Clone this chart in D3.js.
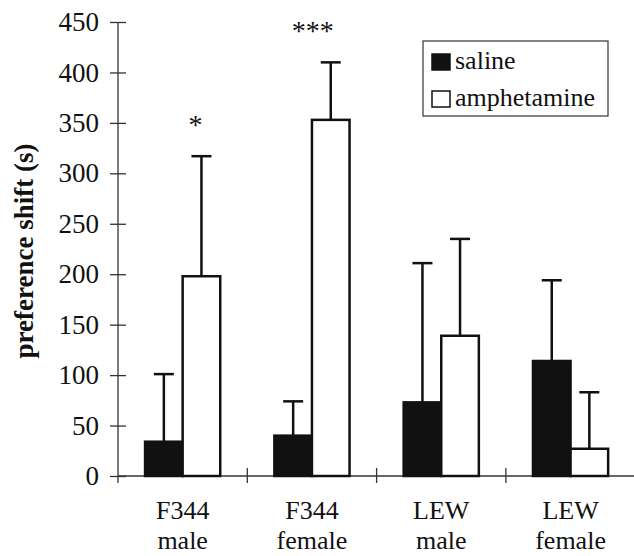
<!DOCTYPE html>
<html>
<head>
<meta charset="utf-8">
<script src="https://cdn.jsdelivr.net/npm/d3@7"></script>
<style>
  body { margin: 0; background: #fff; }
</style>
</head>
<body>
<div id="chart-area"></div>
<script>
// Data
var groups = ["F344 male", "F344 female", "LEW male", "LEW female"];
var treatments = ["saline", "amphetamine"];
var salineMean = [34, 40, 73, 114];
var salineErr = [67, 34, 138, 80];          // error bar length above mean
var amphMean = [198, 353, 139, 27];
var amphErr = [119, 57, 96, 56];
var signif = ["*", "***", "", ""];          // marks above amphetamine bars
var yTicks = [0, 50, 100, 150, 200, 250, 300, 350, 400, 450];

var margin = { left: 118, right: 0, top: 22, bottom: 80 },
    width = 634 - margin.left - margin.right,
    height = 556 - margin.top - margin.bottom;

var serif = "Liberation Serif";

var svg = d3.select("#chart-area").append("svg")
    .attr("width", 634)
    .attr("height", 556)
    .style("font-family", serif);

var g = svg.append("g")
    .attr("transform", "translate(" + margin.left + "," + margin.top + ")");

var ink = "#111";

// Scales
var x_scale = d3.scaleBand().domain(groups).range([0, 4 * 129.3]);
var sub_scale = d3.scaleBand().domain(treatments)
    .range([0, x_scale.bandwidth()])
    .paddingOuter(0.72);
var y_scale = d3.scaleLinear().domain([0, 450]).range([height, 0]);

var data = [];
groups.forEach(function(grp, i) {
    data.push({ group: grp, treat: "saline", mean: salineMean[i], err: salineErr[i], mark: "" });
    data.push({ group: grp, treat: "amphetamine", mean: amphMean[i], err: amphErr[i], mark: signif[i] });
});

// Y axis
var yAxis = g.append("g")
    .attr("class", "y axis")
    .call(d3.axisLeft(y_scale).tickValues(yTicks).tickSize(8).tickPadding(11));
yAxis.attr("font-family", serif).attr("font-size", 27);
yAxis.select(".domain").remove();
yAxis.selectAll(".tick line")
    .attr("x1", -8).attr("x2", 8)
    .attr("stroke", "#333").attr("stroke-width", 1.3);
yAxis.selectAll(".tick text")
    .style("font-size", "27px")
    .style("font-family", serif)
    .attr("fill", ink);
g.append("line")
    .attr("x1", 0).attr("x2", 0)
    .attr("y1", 0).attr("y2", height + 7)
    .attr("stroke", "#333").attr("stroke-width", 1.3);

// X axis
g.append("line")
    .attr("x1", 0).attr("x2", width)
    .attr("y1", height).attr("y2", height)
    .attr("stroke", "#333").attr("stroke-width", 1.3);
g.selectAll(".xtick")
    .data(groups.slice(1))
    .enter().append("line")
    .attr("class", "xtick")
    .attr("x1", function(d) { return x_scale(d); })
    .attr("x2", function(d) { return x_scale(d); })
    .attr("y1", height - 8).attr("y2", height + 7)
    .attr("stroke", "#333").attr("stroke-width", 1.3);

// Category labels, two lines each
var catLabels = g.selectAll(".cat")
    .data(groups)
    .enter().append("text")
    .attr("class", "cat")
    .attr("text-anchor", "middle")
    .style("font-size", "26px")
    .style("font-family", serif)
    .attr("fill", ink)
    .attr("transform", function(d) {
        return "translate(" + (x_scale(d) + x_scale.bandwidth() / 2) + "," + (height + 43) + ")";
    });
catLabels.append("tspan").attr("x", 0).attr("y", 0)
    .text(function(d) { return d.split(" ")[0]; });
catLabels.append("tspan").attr("x", 0).attr("y", 30)
    .text(function(d) { return d.split(" ")[1]; });

// Y-Axis label
g.append("text")
    .attr("transform", "rotate(-90)")
    .attr("x", -(y_scale(225)) - 2)
    .attr("y", -85)
    .attr("text-anchor", "middle")
    .style("font-size", "27px")
    .style("font-family", serif)
    .attr("font-weight", "bold")
    .attr("fill", ink)
    .text("preference shift (s)");

function barX(d) { return x_scale(d.group) + sub_scale(d.treat); }
function barCx(d) { return barX(d) + sub_scale.bandwidth() / 2; }

// Error bars (upper only)
var err = g.selectAll(".err")
    .data(data)
    .enter().append("g")
    .attr("class", "err");
err.append("line")
    .attr("x1", barCx).attr("x2", barCx)
    .attr("y1", function(d) { return y_scale(d.mean); })
    .attr("y2", function(d) { return y_scale(d.mean + d.err); })
    .attr("stroke", ink).attr("stroke-width", 2.5);
err.append("line")
    .attr("x1", function(d) { return barCx(d) - 10; })
    .attr("x2", function(d) { return barCx(d) + 10; })
    .attr("y1", function(d) { return y_scale(d.mean + d.err); })
    .attr("y2", function(d) { return y_scale(d.mean + d.err); })
    .attr("stroke", ink).attr("stroke-width", 2.5);

// Bars
g.selectAll(".bar")
    .data(data)
    .enter().append("rect")
    .attr("class", "bar")
    .attr("x", barX)
    .attr("width", sub_scale.bandwidth())
    .attr("y", function(d) { return y_scale(d.mean); })
    .attr("height", function(d) { return height - y_scale(d.mean); })
    .attr("fill", function(d) { return d.treat === "saline" ? ink : "#fff"; })
    .attr("stroke", ink)
    .attr("stroke-width", 2.5);

// Significance marks
g.selectAll(".sig")
    .data(data.filter(function(d) { return d.mark; }))
    .enter().append("text")
    .attr("class", "sig")
    .attr("x", function(d) { return barCx(d) - 6 * d.mark.length; })
    .attr("y", function(d) { return y_scale(d.mean + d.err) - 22; })
    .attr("text-anchor", "middle")
    .style("font-size", "28px")
    .style("font-family", serif)
    .attr("fill", ink)
    .text(function(d) { return d.mark; });

// Legend
var legend = g.append("g")
    .attr("transform", "translate(" + (423 - margin.left) + "," + (41 - margin.top) + ")");
legend.append("rect")
    .attr("width", 185).attr("height", 75)
    .attr("fill", "#fff").attr("stroke", "#333").attr("stroke-width", 1.2);
var items = legend.selectAll(".item")
    .data(treatments)
    .enter().append("g")
    .attr("class", "item")
    .attr("transform", function(d, i) { return "translate(9," + (13 + i * 37) + ")"; });
items.append("rect")
    .attr("width", 18).attr("height", 16)
    .attr("fill", function(d) { return d === "saline" ? ink : "#fff"; })
    .attr("stroke", ink).attr("stroke-width", 1.5);
items.append("text")
    .attr("x", 23).attr("y", 15)
    .style("font-size", "26px")
    .style("font-family", serif)
    .attr("fill", ink)
    .text(function(d) { return d; });
</script>
</body>
</html>
